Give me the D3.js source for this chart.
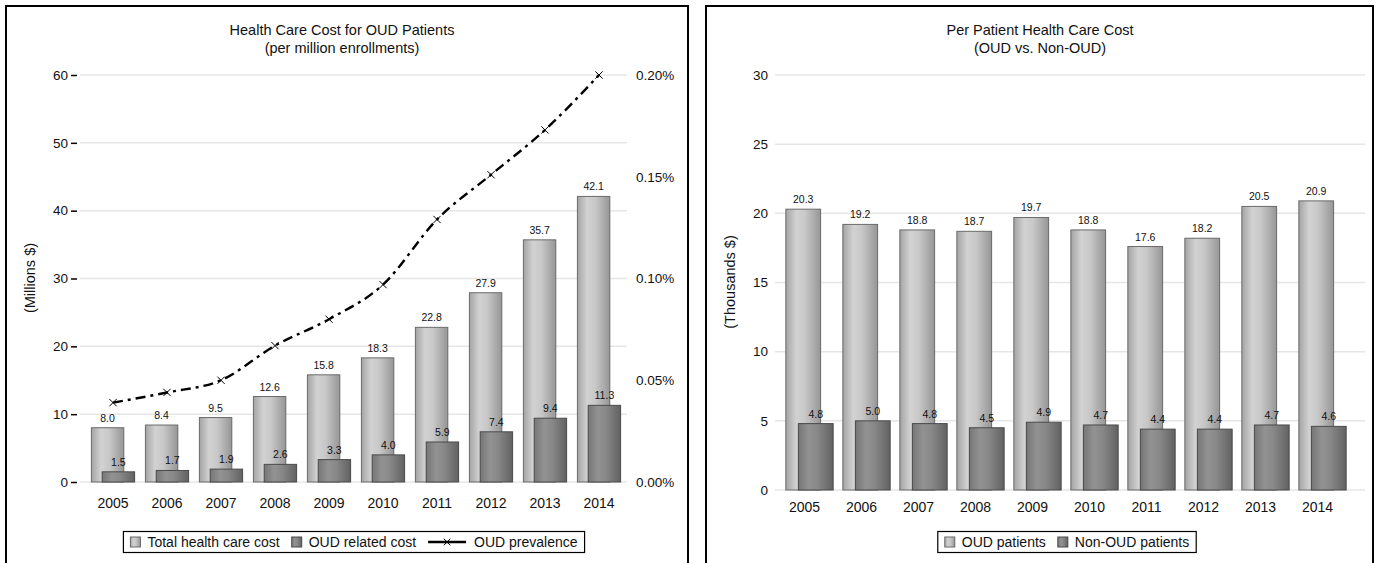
<!DOCTYPE html>
<html>
<head>
<meta charset="utf-8">
<script src="https://cdn.jsdelivr.net/npm/d3@7"></script>
<style>
  body { margin: 0; background: #fff; }
  text { font-family: "Liberation Sans", Arial, sans-serif; fill: #111; }
</style>
</head>
<body>
<svg id="chart" width="1379" height="563"></svg>
<script>
// ---- data ----
const years = ["2005", "2006", "2007", "2008", "2009", "2010", "2011", "2012", "2013", "2014"];
const totalCost = [8.0, 8.4, 9.5, 12.6, 15.8, 18.3, 22.8, 27.9, 35.7, 42.1];      // millions $
const oudCost = [1.5, 1.7, 1.9, 2.6, 3.3, 4.0, 5.9, 7.4, 9.4, 11.3];               // millions $
const oudPrevalence = [0.039, 0.044, 0.050, 0.067, 0.080, 0.097, 0.129, 0.151, 0.173, 0.200]; // percent
const costTicks = [0, 10, 20, 30, 40, 50, 60];
const prevalenceTicks = [0, 0.05, 0.10, 0.15, 0.20];

const perPatientOud = [20.3, 19.2, 18.8, 18.7, 19.7, 18.8, 17.6, 18.2, 20.5, 20.9];   // thousands $
const perPatientNonOud = [4.8, 5.0, 4.8, 4.5, 4.9, 4.7, 4.4, 4.4, 4.7, 4.6];         // thousands $
const perPatientTicks = [0, 5, 10, 15, 20, 25, 30];

const svg = d3.select("#chart");
const defs = svg.append("defs");
const FONT = "Liberation Sans, Arial, sans-serif";

// cylindrical-looking shading for the two bar tones
function shade(id, stops) {
  const g = defs.append("linearGradient").attr("id", id)
    .attr("x1", "0%").attr("x2", "100%").attr("y1", "0%").attr("y2", "0%");
  stops.forEach(([o, c]) => g.append("stop").attr("offset", o).attr("stop-color", c));
}
shade("lightBar", [["0%", "#a4a4a4"], ["30%", "#d2d2d2"], ["55%", "#c8c8c8"], ["100%", "#969696"]]);
shade("darkBar", [["0%", "#767676"], ["30%", "#929292"], ["55%", "#888888"], ["100%", "#626262"]]);
const lightStroke = "#6a6a6a", darkStroke = "#4a4a4a";

function frame(x0, x1) {
  svg.append("path")
    .attr("d", `M${x0},${570} V${6} H${x1} V${570}`)
    .attr("fill", "none").attr("stroke", "#000").attr("stroke-width", 2);
}

function title(cx, lines) {
  lines.forEach((t, i) => svg.append("text")
    .attr("x", cx).attr("y", 35 + i * 18)
    .attr("text-anchor", "middle").attr("font-size", 14.5).text(t));
}

function legend(cx, y, items) {
  const g = svg.append("g");
  const box = g.append("rect").attr("fill", "#fff").attr("stroke", "#000").attr("stroke-width", 1.2);
  let cur = 0;
  items.forEach(it => {
    if (it.type === "bar") {
      g.append("rect").attr("x", cur).attr("y", -5).attr("width", 10).attr("height", 10)
        .attr("fill", it.fill).attr("stroke", it.stroke).attr("stroke-width", 1);
      cur += 17;
    } else {
      g.append("line").attr("x1", cur).attr("x2", cur + 38).attr("y1", 0).attr("y2", 0)
        .attr("stroke", "#000").attr("stroke-width", 2.4);
      g.append("path").attr("d", d3.symbol(d3.symbolTimes, 30)())
        .attr("transform", `translate(${cur + 19},0)`)
        .attr("fill", "none").attr("stroke", "#000").attr("stroke-width", 1);
      cur += 46;
    }
    const t = g.append("text").attr("x", cur).attr("y", 5).attr("font-size", 14).text(it.label);
    cur += t.node().getComputedTextLength() + 12;
  });
  const w = cur - 12;
  box.attr("x", -7).attr("y", -10.5).attr("width", w + 14).attr("height", 21);
  g.attr("transform", `translate(${cx - w / 2},${y})`);
}

function styleTicks(g) {
  g.select(".domain").remove();
  g.selectAll(".tick text").attr("font-size", 13.5).attr("font-family", FONT).attr("fill", "#111");
}

// ---------------- left panel: cost per million enrollments ----------------
(function () {
  frame(6, 688);
  title(342, ["Health Care Cost for OUD Patients", "(per million enrollments)"]);

  const x = d3.scaleBand().domain(years).range([86, 626]);
  const y = d3.scaleLinear().domain([0, 60]).range([482, 75]);
  const y2 = d3.scaleLinear().domain([0, 0.20]).range([482, 75]);
  const step = x.bandwidth();
  const bw = step * 0.6, off = step * 0.1;
  const cx = d => x(d) + step / 2;

  // gridlines
  svg.append("g").selectAll("line").data(costTicks).join("line")
    .attr("x1", 80).attr("x2", 627)
    .attr("y1", d => y(d)).attr("y2", d => y(d))
    .attr("stroke", "#e6e6e6").attr("stroke-width", 1.5);

  // left axis
  const la = svg.append("g").attr("transform", "translate(77,0)")
    .call(d3.axisLeft(y).tickValues(costTicks).tickSize(6).tickPadding(3));
  styleTicks(la);
  la.selectAll(".tick line").attr("stroke", "#000").attr("stroke-width", 1.5);

  // right axis (prevalence)
  const ra = svg.append("g").attr("transform", "translate(636,0)")
    .call(d3.axisRight(y2).tickValues(prevalenceTicks).tickSize(0).tickPadding(0)
      .tickFormat(d => d3.format(".2f")(d) + "%"));
  styleTicks(ra);

  // total cost bars
  svg.append("g").selectAll("rect").data(totalCost).join("rect")
    .attr("x", (d, i) => cx(years[i]) - off - bw / 2)
    .attr("y", d => y(d)).attr("width", bw).attr("height", d => y(0) - y(d))
    .attr("fill", "url(#lightBar)").attr("stroke", lightStroke).attr("stroke-width", 1);
  svg.append("g").selectAll("text").data(totalCost).join("text")
    .attr("x", (d, i) => cx(years[i]) - off).attr("y", d => y(d) - 6)
    .attr("text-anchor", "middle").attr("font-size", 10.5).text(d => d.toFixed(1));

  // OUD related cost bars
  svg.append("g").selectAll("rect").data(oudCost).join("rect")
    .attr("x", (d, i) => cx(years[i]) + off - bw / 2)
    .attr("y", d => y(d)).attr("width", bw).attr("height", d => y(0) - y(d))
    .attr("fill", "url(#darkBar)").attr("stroke", darkStroke).attr("stroke-width", 1);
  svg.append("g").selectAll("text").data(oudCost).join("text")
    .attr("x", (d, i) => cx(years[i]) + off).attr("y", d => y(d) - 6)
    .attr("text-anchor", "middle").attr("font-size", 10.5).text(d => d.toFixed(1));

  // prevalence line
  const line = d3.line().x((d, i) => cx(years[i])).y(d => y2(d)).curve(d3.curveMonotoneX);
  svg.append("path").datum(oudPrevalence).attr("d", line)
    .attr("fill", "none").attr("stroke", "#000").attr("stroke-width", 2.4)
    .attr("stroke-dasharray", "10,5,3,5");
  svg.append("g").selectAll("path").data(oudPrevalence).join("path")
    .attr("d", d3.symbol(d3.symbolTimes, 36)())
    .attr("transform", (d, i) => `translate(${cx(years[i])},${y2(d)})`)
    .attr("fill", "none").attr("stroke", "#000").attr("stroke-width", 1);

  // x labels
  svg.append("g").selectAll("text").data(years).join("text")
    .attr("x", d => cx(d)).attr("y", 508).attr("text-anchor", "middle")
    .attr("font-size", 14).text(d => d);

  // y title
  svg.append("text").attr("transform", "translate(35,278) rotate(-90)")
    .attr("text-anchor", "middle").attr("font-size", 14.5).text("(Millions $)");

  legend(354, 542, [
    { type: "bar", fill: "url(#lightBar)", stroke: lightStroke, label: "Total health care cost" },
    { type: "bar", fill: "url(#darkBar)", stroke: darkStroke, label: "OUD related cost" },
    { type: "line", label: "OUD prevalence" }
  ]);
})();

// ---------------- right panel: per patient cost ----------------
(function () {
  frame(706, 1373);
  title(1040, ["Per Patient Health Care Cost", "(OUD vs. Non-OUD)"]);

  const x = d3.scaleBand().domain(years).range([781, 1351]);
  const y = d3.scaleLinear().domain([0, 30]).range([490, 75]);
  const step = x.bandwidth();
  const bw = step * 0.61, off = step * 0.11;
  const cx = d => x(d) + step / 2;

  svg.append("g").selectAll("line").data(perPatientTicks).join("line")
    .attr("x1", 775).attr("x2", 1365)
    .attr("y1", d => y(d)).attr("y2", d => y(d))
    .attr("stroke", "#e6e6e6").attr("stroke-width", 1.5);

  const la = svg.append("g").attr("transform", "translate(768,0)")
    .call(d3.axisLeft(y).tickValues(perPatientTicks).tickSize(0).tickPadding(0));
  styleTicks(la);

  svg.append("g").selectAll("rect").data(perPatientOud).join("rect")
    .attr("x", (d, i) => cx(years[i]) - off - bw / 2)
    .attr("y", d => y(d)).attr("width", bw).attr("height", d => y(0) - y(d))
    .attr("fill", "url(#lightBar)").attr("stroke", lightStroke).attr("stroke-width", 1);
  svg.append("g").selectAll("text").data(perPatientOud).join("text")
    .attr("x", (d, i) => cx(years[i]) - off).attr("y", d => y(d) - 6)
    .attr("text-anchor", "middle").attr("font-size", 10.5).text(d => d.toFixed(1));

  svg.append("g").selectAll("rect").data(perPatientNonOud).join("rect")
    .attr("x", (d, i) => cx(years[i]) + off - bw / 2)
    .attr("y", d => y(d)).attr("width", bw).attr("height", d => y(0) - y(d))
    .attr("fill", "url(#darkBar)").attr("stroke", darkStroke).attr("stroke-width", 1);
  svg.append("g").selectAll("text").data(perPatientNonOud).join("text")
    .attr("x", (d, i) => cx(years[i]) + off).attr("y", d => y(d) - 6)
    .attr("text-anchor", "middle").attr("font-size", 10.5).text(d => d.toFixed(1));

  svg.append("g").selectAll("text").data(years).join("text")
    .attr("x", d => cx(d) - 5).attr("y", 512).attr("text-anchor", "middle")
    .attr("font-size", 14).text(d => d);

  svg.append("text").attr("transform", "translate(735,282) rotate(-90)")
    .attr("text-anchor", "middle").attr("font-size", 14.5).text("(Thousands $)");

  legend(1067, 542, [
    { type: "bar", fill: "url(#lightBar)", stroke: lightStroke, label: "OUD patients" },
    { type: "bar", fill: "url(#darkBar)", stroke: darkStroke, label: "Non-OUD patients" }
  ]);
})();
</script>
</body>
</html>
